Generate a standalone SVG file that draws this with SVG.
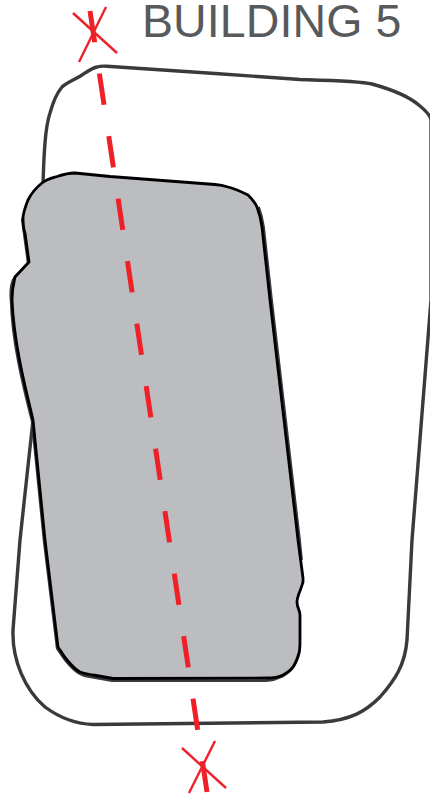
<svg xmlns="http://www.w3.org/2000/svg" width="430" height="794" viewBox="0 0 430 794">
<style>
.outer{fill:none;stroke:#3a3a3c;stroke-width:3.4;stroke-linejoin:round}
.inner{fill:#bcbdc0;stroke:#000;stroke-width:2.8;stroke-linejoin:round}
.shadow{fill:none;stroke:#3a3a3c;stroke-width:2.8;stroke-linejoin:round}
.dash{fill:none;stroke:#ee2129;stroke-width:5;stroke-dasharray:31.6 31.6}
.x{fill:none;stroke:#ee2129;stroke-width:2.4}
.t{font-family:"Liberation Sans",Arial,sans-serif;font-size:46.500px;letter-spacing:.1px;fill:#58595b}
</style>
<rect width="430" height="794" fill="#fff"/>
<g id="outer-building">
<path class="outer" d="M43 184C43.500 168 44 155 45 143C46 130 47 122 50 113C53 102 57 93 62 87C66 83 76 79 82 75C88 71 92 68 97 67C100 66 103 66 107 66.200L215 73.500L300 79.500C335 80.500 360 81 372 84C390 89 410 97 420 106C425 110 429 114 431 119L431 300L412 540L407 640C405 665 395 680 380 697C365 712 350 720 323 722L93 724.500C78 724 60 718 45 707C25 690 12 660 13 630L20 540L33 420"/>
</g>
<g id="gray-footprint">
<path class="shadow" transform="translate(-.8 1.200)" d="M23 217L29 262L15 277C12 282 11 290 12 300C13 340 24 385 33 420L45 540L58 647C60 650 63 655 67 660C72 666 76 670 80 672C85 675 88 675 93 676L113 679.500L267 679.500C275 679 279 677 283 675C288 672 291 670 293 667C297 661 299 656 300 650"/>
<path class="shadow" transform="translate(1.500 0)" d="M257 207C260 215 261 220 262 227L270 300L298 540L300 560"/>
<path class="inner" d="M42 183C47 179 52 178 57 176.500C63 174.500 69 173 75 173L110 176.500L215 184.500C222 185 225 186 228 187C236 189 242 192 248 195C252 199 255 202 257 207C260 215 261 220 262 227L270 300L298 540L303 578L303 582C301 590 297 596 297 602C297 608 300 610 300 615L300 640C300 648 300 650 299 653C297 660 295 664 293 667C291 670 288 672 283 675C279 677 275 678 267 678L113 678.500L93 675C88 674 85 674 80 672C76 670 72 666 67 660C63 655 60 650 58 647L45 540L33 420C26 390 14 345 12 300C12 292 13 285 15 277L29 262L25 233C23 228 23 222 23 217C24 210 26 205 28 200C32 192 37 187 42 183Z"/>
</g>
<g id="connectors">
<path class="dash" d="M90 11L207 792"/>
<path class="x" d="M73 13L117 53M106 7L79 62"/>
<path class="x" d="M182 748L226 788M215 741L189 793"/>
</g>
<g id="label">
<text class="t" x="142" y="37">BUILDING 5</text>
</g>
</svg>
